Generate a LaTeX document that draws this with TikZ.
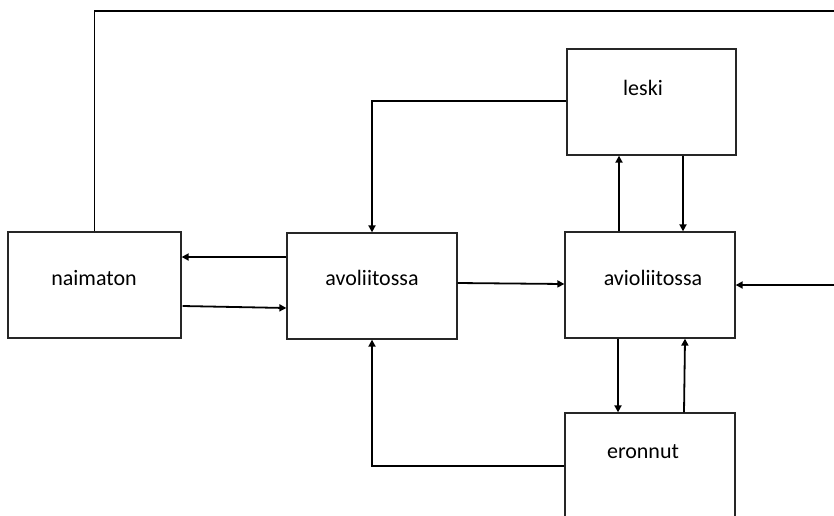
\documentclass[tikz,border=0pt]{standalone}
\usepackage{fontspec}
\setmainfont{Carlito}
\usetikzlibrary{arrows.meta,calc}
\begin{document}
\begin{tikzpicture}[x=1pt,y=-1pt,
  box/.style={draw=black!85,line width=1.3pt,minimum height=106pt,inner sep=0pt},
  lbl/.style={font=\fontsize{22}{26}\selectfont,inner sep=0pt},
  conn/.style={line width=1.8pt,-{Triangle[length=7pt,width=7pt]}}]
\useasboundingbox (0,0) rectangle (834,515);
\clip (0,0) rectangle (834,515);

% state boxes
\node[box,minimum width=173pt] (nai) at (94.5,285) {};
\node[box,minimum width=170pt] (avo) at (372,286) {};
\node[box,minimum width=170pt] (avi) at (650,285) {};
\node[box,minimum width=169pt] (les) at (651.5,102) {};
\node[box,minimum width=170pt] (ero) at (650,466) {};

% labels
\node[lbl] (tnai) at (94,278) {naimaton};
\node[lbl] (tavo) at (372,278) {avoliitossa};
\node[lbl] (tavi) at (653,278) {avioliitossa};
\node[lbl] (tles) at (643,88) {leski};
\node[lbl] (tero) at (643,452) {eronnut};

% transitions
\draw[conn] (nai.north) |- (850,11) |- (avi.east);
\draw[conn] ($(avo.west)+(0,-29)$) -- ($(nai.east)+(0,-28)$);
\draw[conn] ($(nai.east)+(1,21)$) -- ($(avo.west)+(0,22)$);
\draw[conn] ($(avo.east)+(0,-3)$) -- ($(avi.west)+(0,-1)$);
\draw[conn] ($(les.west)+(0,-1)$) -| (avo.north);
\draw[conn] ($(avi.north)+(-31,0)$) -- ($(les.south)+(-32.5,0)$);
\draw[conn] ($(les.south)+(31.5,0)$) -- ($(avi.north)+(33,0)$);
\draw[conn] ($(avi.south)+(-32,0)$) -- ($(ero.north)+(-32,0)$);
\draw[conn] ($(ero.north)+(34,0)$) -- ($(avi.south)+(35,0)$);
\draw[conn] (ero.west) -| (avo.south);
\end{tikzpicture}
\end{document}
